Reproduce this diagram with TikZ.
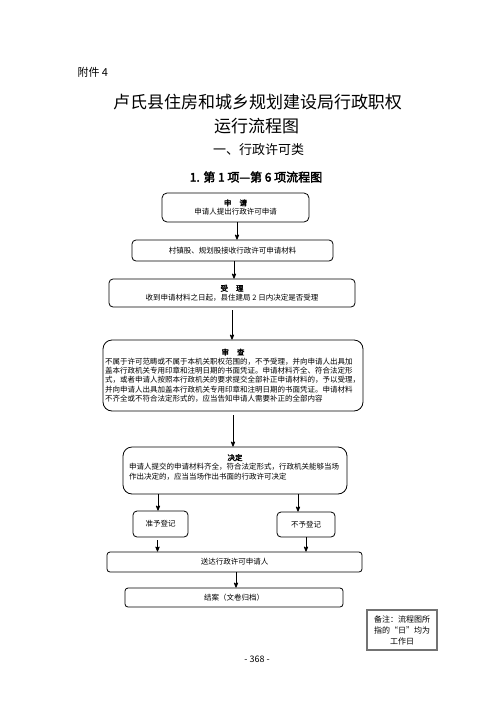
\documentclass[tikz,border=0pt]{standalone}
\usepackage{fontspec}
\setmainfont[AutoFakeBold=2.5]{Noto Sans CJK SC}
\usetikzlibrary{arrows}

\begin{document}
\begin{tikzpicture}[x=1pt, y=-1pt,
  box/.style={draw=black, line width=.8pt, rounded corners=4pt, inner sep=2pt, align=center, font=\fontsize{7.5}{9.3}\selectfont},
  bigbox/.style={box, rounded corners=9pt},
  arr/.style={black, line width=.8pt, ->, >=stealth'}]
\useasboundingbox (0,0) rectangle (496,702);
\node[anchor=west, font=\fontsize{11}{13}\selectfont] (fj) at (74,72) {附件 4};
\node[font=\fontsize{17}{20}\selectfont] (t1) at (257.5,102) {卢氏县住房和城乡规划建设局行政职权};
\node[font=\fontsize{17}{20}\selectfont] (t2) at (256.5,126) {运行流程图};
\node[font=\fontsize{13}{15}\selectfont] (t3) at (258.5,150) {一、行政许可类};
\node[font=\bfseries\fontsize{12}{14}\selectfont] (t4) at (256,177) {1. 第 1 项—第 6 项流程图};

\node[box, rounded corners=5pt, minimum width=147pt, minimum height=29pt] (sq) at (235.5,207.5)
  {\textbf{申\hspace{8pt}请}\\申请人提出行政许可申请};
\node[box, minimum width=201pt, minimum height=21pt] (cz) at (232.5,250.5) {村镇股、规划股接收行政许可申请材料};
\node[box, minimum width=246pt, minimum height=28pt] (sl) at (232,293)
  {\textbf{受\hspace{8pt}理}\\收到申请材料之日起，县住建局 2 日内决定是否受理};
\node[bigbox, minimum width=260pt, minimum height=71pt] (sc) at (233,375.5)
  {\textbf{审\hspace{8pt}查}\\\parbox[t]{256pt}{\raggedright
  不属于许可范畴或不属于本机关职权范围的，不予受理，并向申请人出具加\\
  盖本行政机关专用印章和注明日期的书面凭证。申请材料齐全、符合法定形\\
  式，或者申请人按照本行政机关的要求提交全部补正申请材料的，予以受理，\\
  并向申请人出具加盖本行政机关专用印章和注明日期的书面凭证。申请材料\\
  不齐全或不符合法定形式的，应当告知申请人需要补正的全部内容}};
\node[bigbox, minimum width=224pt, minimum height=47pt] (jd) at (235,470.5)
  {\textbf{决定}\\\parbox[t]{212pt}{\raggedright
  申请人提交的申请材料齐全，符合法定形式，行政机关能够当场\\
  作出决定的，应当当场作出书面的行政许可决定\par\vspace{7pt}}};
\node[box, minimum width=55pt, minimum height=26pt] (zy) at (160.5,524) {准予登记};
\node[box, minimum width=58pt, minimum height=25pt] (by) at (306,524.5) {不予登记};
\node[box, rounded corners=3pt, minimum width=255pt, minimum height=20pt] (sd) at (234.5,562) {送达行政许可申请人};
\node[box, rounded corners=3pt, minimum width=218pt, minimum height=19pt] (ja) at (234,597.5) {结案（文卷归档）};
\node[draw=black!55, line width=1.2pt, minimum width=70pt, minimum height=40pt, inner sep=1pt, align=center,
  font=\fontsize{8}{11}\selectfont] (bz) at (402,630) {备注：流程图所\\指的“日”均为\\工作日};
\node[font=\fontsize{9}{11}\selectfont] (ym) at (257,659) {- 368 -};

\foreach \a/\b in {sq/cz, cz/sl, sd/ja}
 \draw[arr] ([xshift=1.5pt]\a.south) -- ([xshift=1.5pt]\a.south |- \b.north);
\draw[arr, shorten <=3pt] (sl.south) -- (sl.south |- sc.north);
\draw[arr, shorten <=4pt] (sc.south) -- (sc.south |- jd.north);
\draw[arr] ([xshift=-2.5pt]zy.north |- jd.south) -- ([xshift=-2.5pt]zy.north);
\draw[arr] ([xshift=-8pt]by.north |- jd.south) -- ([xshift=-8pt]by.north);
\draw[arr, shorten <=3pt] ([xshift=-3pt]zy.south) -- ([xshift=-3pt]zy.south |- sd.north);
\draw[arr] (by.south) -- (by.south |- sd.north);
\end{tikzpicture}
\end{document}
